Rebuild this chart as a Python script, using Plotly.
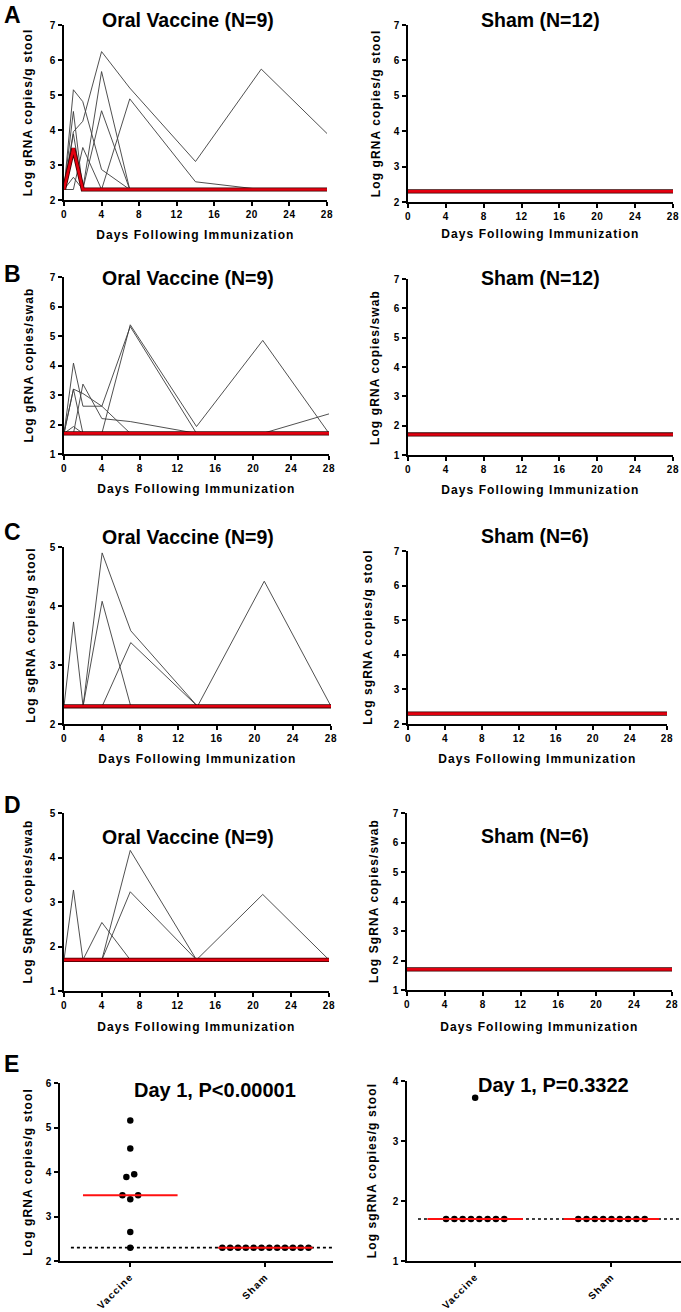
import numpy as np
import plotly.graph_objects as go

W, H = 681, 1312
FONT = "Liberation Sans, Arial, Helvetica, sans-serif"

# ---------------- data ----------------
DAYS = [0, 1, 2, 4, 7, 14, 21, 28]
DAY_TICKS = [0, 4, 8, 12, 16, 20, 24, 28]

# A: Log gRNA copies/g stool
A_VACCINE = [
    [2.3, 3.95, 4.25, 6.24, 5.20, 3.10, 5.74, 3.90],
    [2.3, 5.15, 4.81, 2.87, 2.30, 2.30, 2.30, 2.30],
    [2.3, 4.53, 2.30, 5.67, 2.30, 2.30, 2.30, 2.30],
    [2.3, 3.89, 2.30, 4.55, 2.30, 2.30, 2.30, 2.30],
    [2.3, 3.48, 2.30, 2.30, 4.89, 2.52, 2.30, 2.30],
    [2.3, 3.48, 2.30, 2.30, 2.30, 2.30, 2.30, 2.30],
    [2.3, 3.39, 2.30, 2.30, 2.30, 2.30, 2.30, 2.30],
    [2.3, 2.65, 2.30, 2.30, 2.30, 2.30, 2.30, 2.30],
    [2.3, 2.30, 3.50, 2.30, 2.30, 2.30, 2.30, 2.30],
]
A_SHAM = [
    [2.3, 2.3, 2.3, 2.3, 2.3, 2.3, 2.3, 2.3],
    [2.3, 2.3, 2.3, 2.3, 2.3, 2.3, 2.3, 2.3],
    [2.3, 2.3, 2.3, 2.3, 2.3, 2.3, 2.3, 2.3],
    [2.3, 2.3, 2.3, 2.3, 2.3, 2.3, 2.3, 2.3],
    [2.3, 2.3, 2.3, 2.3, 2.3, 2.3, 2.3, 2.3],
    [2.3, 2.3, 2.3, 2.3, 2.3, 2.3, 2.3, 2.3],
    [2.3, 2.3, 2.3, 2.3, 2.3, 2.3, 2.3, 2.3],
    [2.3, 2.3, 2.3, 2.3, 2.3, 2.3, 2.3, 2.3],
    [2.3, 2.3, 2.3, 2.3, 2.3, 2.3, 2.3, 2.3],
    [2.3, 2.3, 2.3, 2.3, 2.3, 2.3, 2.3, 2.3],
    [2.3, 2.3, 2.3, 2.3, 2.3, 2.3, 2.3, 2.3],
    [2.3, 2.3, 2.3, 2.3, 2.3, 2.3, 2.3, 2.3],
]

# B: Log gRNA copies/swab
B_VACCINE = [
    [1.7, 4.08, 2.62, 2.62, 1.70, 1.70, 1.70, 1.70],
    [1.7, 3.20, 1.70, 1.70, 5.38, 1.93, 4.85, 1.70],
    [1.7, 1.70, 3.37, 2.20, 2.10, 1.70, 1.70, 1.70],
    [1.7, 3.20, 3.05, 2.62, 5.32, 1.70, 1.70, 1.70],
    [1.7, 1.93, 1.70, 1.70, 1.70, 1.70, 1.70, 1.70],
    [1.7, 1.70, 1.70, 1.70, 1.70, 1.70, 1.70, 2.36],
    [1.7, 1.70, 1.70, 1.70, 1.70, 1.70, 1.70, 1.70],
    [1.7, 1.70, 1.70, 1.70, 1.70, 1.70, 1.70, 1.70],
    [1.7, 1.70, 1.70, 1.70, 1.70, 1.70, 1.70, 1.70],
]
B_SHAM = [
    [1.7, 1.7, 1.7, 1.7, 1.7, 1.7, 1.7, 1.7],
    [1.7, 1.7, 1.7, 1.7, 1.7, 1.7, 1.7, 1.7],
    [1.7, 1.7, 1.7, 1.7, 1.7, 1.7, 1.7, 1.7],
    [1.7, 1.7, 1.7, 1.7, 1.7, 1.7, 1.7, 1.7],
    [1.7, 1.7, 1.7, 1.7, 1.7, 1.7, 1.7, 1.7],
    [1.7, 1.7, 1.7, 1.7, 1.7, 1.7, 1.7, 1.7],
    [1.7, 1.7, 1.7, 1.7, 1.7, 1.7, 1.7, 1.7],
    [1.7, 1.7, 1.7, 1.7, 1.7, 1.7, 1.7, 1.7],
    [1.7, 1.7, 1.7, 1.7, 1.7, 1.7, 1.7, 1.7],
    [1.7, 1.7, 1.7, 1.7, 1.7, 1.7, 1.7, 1.7],
    [1.7, 1.7, 1.7, 1.7, 1.7, 1.7, 1.7, 1.7],
    [1.7, 1.7, 1.7, 1.7, 1.7, 1.7, 1.7, 1.7],
]

# C: Log sgRNA copies/g stool
C_VACCINE = [
    [2.3, 3.73, 2.3, 2.30, 2.30, 2.3, 2.30, 2.3],
    [2.3, 2.30, 2.3, 4.90, 3.58, 2.3, 2.30, 2.3],
    [2.3, 2.30, 2.3, 4.08, 2.30, 2.3, 2.30, 2.3],
    [2.3, 2.30, 2.3, 2.30, 3.38, 2.3, 2.30, 2.3],
    [2.3, 2.30, 2.3, 2.30, 2.30, 2.3, 4.42, 2.3],
    [2.3, 2.30, 2.3, 2.30, 2.30, 2.3, 2.30, 2.3],
    [2.3, 2.30, 2.3, 2.30, 2.30, 2.3, 2.30, 2.3],
    [2.3, 2.30, 2.3, 2.30, 2.30, 2.3, 2.30, 2.3],
    [2.3, 2.30, 2.3, 2.30, 2.30, 2.3, 2.30, 2.3],
]
C_SHAM = [
    [2.3, 2.3, 2.3, 2.3, 2.3, 2.3, 2.3, 2.3],
    [2.3, 2.3, 2.3, 2.3, 2.3, 2.3, 2.3, 2.3],
    [2.3, 2.3, 2.3, 2.3, 2.3, 2.3, 2.3, 2.3],
    [2.3, 2.3, 2.3, 2.3, 2.3, 2.3, 2.3, 2.3],
    [2.3, 2.3, 2.3, 2.3, 2.3, 2.3, 2.3, 2.3],
    [2.3, 2.3, 2.3, 2.3, 2.3, 2.3, 2.3, 2.3],
]

# D: Log SgRNA copies/swab
D_VACCINE = [
    [1.7, 3.27, 1.7, 1.70, 1.70, 1.7, 1.70, 1.7],
    [1.7, 1.70, 1.7, 2.54, 1.70, 1.7, 1.70, 1.7],
    [1.7, 1.70, 1.7, 1.70, 4.16, 1.7, 1.70, 1.7],
    [1.7, 1.70, 1.7, 1.70, 3.23, 1.7, 1.70, 1.7],
    [1.7, 1.70, 1.7, 1.70, 1.70, 1.7, 3.17, 1.7],
    [1.7, 1.70, 1.7, 1.70, 1.70, 1.7, 1.70, 1.7],
    [1.7, 1.70, 1.7, 1.70, 1.70, 1.7, 1.70, 1.7],
    [1.7, 1.70, 1.7, 1.70, 1.70, 1.7, 1.70, 1.7],
    [1.7, 1.70, 1.7, 1.70, 1.70, 1.7, 1.70, 1.7],
]
D_SHAM = [
    [1.7, 1.7, 1.7, 1.7, 1.7, 1.7, 1.7, 1.7],
    [1.7, 1.7, 1.7, 1.7, 1.7, 1.7, 1.7, 1.7],
    [1.7, 1.7, 1.7, 1.7, 1.7, 1.7, 1.7, 1.7],
    [1.7, 1.7, 1.7, 1.7, 1.7, 1.7, 1.7, 1.7],
    [1.7, 1.7, 1.7, 1.7, 1.7, 1.7, 1.7, 1.7],
    [1.7, 1.7, 1.7, 1.7, 1.7, 1.7, 1.7, 1.7],
]

# E: Day 1 comparisons
E_CATEGORIES = ["Vaccine", "Sham"]
E_LEFT_VACCINE = [5.16, 4.53, 3.95, 3.89, 3.48, 3.48, 3.39, 2.65, 2.30]
E_LEFT_SHAM = [2.3, 2.3, 2.3, 2.3, 2.3, 2.3, 2.3, 2.3, 2.3, 2.3, 2.3, 2.3]
E_LEFT_LOD = 2.3
E_RIGHT_VACCINE = [3.72, 1.7, 1.7, 1.7, 1.7, 1.7, 1.7, 1.7, 1.7]
E_RIGHT_SHAM = [1.7, 1.7, 1.7, 1.7, 1.7, 1.7, 1.7, 1.7, 1.7]
E_RIGHT_LOD = 1.7

# ---------------- layout helpers ----------------
GRAY = "#3c3c3c"
RED = "#e3000f"


def fx(p):
    return p / W


def fy(p):
    return 1 - p / H


def bold(size):
    return dict(family=FONT, size=size, color="black", weight="bold")


def axis_style(**kw):
    d = dict(showline=True, linecolor="black", linewidth=2, ticks="outside",
             ticklen=4, tickwidth=2, tickcolor="black", showgrid=False,
             zeroline=False, tickfont=bold(10), fixedrange=True,
             ticklabeloverflow="allow")
    d.update(kw)
    return d


fig = go.Figure()
annotations = []
shapes = []

TIME_PANELS = [
    # data, box(x0,x1,y0,y1), yrange, ylabel, title, title pos, xtitle y, ytitle x
    (A_VACCINE, (64, 327, 25, 200), (2, 7), "Log gRNA copies/g stool", "Oral Vaccine (N=9)", (188, 20), 235, 28),
    (A_SHAM, (408, 673, 25, 202), (2, 7), "Log gRNA copies/g stool", "Sham (N=12)", (540, 20), 234, 375),
    (B_VACCINE, (64, 329, 277, 454), (1, 7), "Log gRNA copies/swab", "Oral Vaccine (N=9)", (188, 278), 489, 28),
    (B_SHAM, (408, 673, 279, 455), (1, 7), "Log gRNA copies/swab", "Sham (N=12)", (540, 278), 490, 375),
    (C_VACCINE, (64, 331, 547, 724), (2, 5), "Log sgRNA copies/g stool", "Oral Vaccine (N=9)", (188, 537), 759, 30),
    (C_SHAM, (408, 667, 551, 724), (2, 7), "Log sgRNA copies/g stool", "Sham (N=6)", (535, 536), 759, 368),
    (D_VACCINE, (64, 329, 813, 991), (1, 5), "Log SgRNA copies/swab", "Oral Vaccine (N=9)", (188, 837), 1027, 28),
    (D_SHAM, (407, 672, 813, 990), (1, 7), "Log SgRNA copies/swab", "Sham (N=6)", (535, 836), 1027, 373),
]

layout_axes = {}
n = 0
for data, box, yr, ylab, title, tpos, xt_y, yt_x in TIME_PANELS:
    n += 1
    xa = "x" if n == 1 else f"x{n}"
    ya = "y" if n == 1 else f"y{n}"
    x0, x1, y0, y1 = box
    arr = np.array(data, dtype=float)
    for row in arr:
        fig.add_trace(go.Scatter(x=DAYS, y=row, mode="lines", xaxis=xa, yaxis=ya,
                                 line=dict(color=GRAY, width=0.9), showlegend=False,
                                 hoverinfo="skip"))
    med = np.median(arr, axis=0)
    fig.add_trace(go.Scatter(x=DAYS, y=med, mode="lines", xaxis=xa, yaxis=ya,
                             line=dict(color="#3a0000", width=4.2), showlegend=False,
                             hoverinfo="skip"))
    fig.add_trace(go.Scatter(x=DAYS, y=med, mode="lines", xaxis=xa, yaxis=ya,
                             line=dict(color=RED, width=2.6), showlegend=False,
                             hoverinfo="skip"))
    key = "" if n == 1 else str(n)
    layout_axes["xaxis" + key] = axis_style(domain=[fx(x0), fx(x1)], range=[0, 28],
                                            tickvals=DAY_TICKS, anchor=ya)
    layout_axes["yaxis" + key] = axis_style(domain=[fy(y1), fy(y0)], range=list(yr),
                                            dtick=1, tick0=yr[0], anchor=xa)
    annotations.append(dict(text=title, x=fx(tpos[0]), y=fy(tpos[1]), xref="paper", yref="paper",
                            xanchor="center", yanchor="middle", showarrow=False, font=bold(19.5)))
    annotations.append(dict(text="Days Following Immunization", x=fx((x0 + x1) / 2), y=fy(xt_y),
                            xref="paper", yref="paper", xanchor="center", yanchor="middle",
                            showarrow=False, font=bold(12)))
    annotations.append(dict(text=ylab, x=fx(yt_x), y=fy((y0 + y1) / 2), xref="paper", yref="paper",
                            xanchor="center", yanchor="middle", textangle=-90,
                            showarrow=False, font=bold(12)))


def swarm_offsets(values, step, tol):
    order = sorted(range(len(values)), key=lambda i: values[i])
    offs = [0.0] * len(values)
    groups = []
    for i in order:
        if groups and values[i] - values[groups[-1][0]] <= tol:
            groups[-1].append(i)
        else:
            groups.append([i])
    for g in groups:
        k = len(g)
        slots = sorted([j - (k - 1) / 2 for j in range(k)], key=lambda s: (abs(s), s))
        for idx, s in zip(g, slots):
            offs[idx] = s * step
    return offs


E_PANELS = [
    (E_LEFT_VACCINE, E_LEFT_SHAM, E_LEFT_LOD, (60, 333, 1083, 1261), (2, 6), [-0.52, 1.5],
     "Log gRNA copies/g stool", "Day 1, P<0.00001", (215, 1090), 28, 0.058),
    (E_RIGHT_VACCINE, E_RIGHT_SHAM, E_RIGHT_LOD, (407, 681, 1081, 1261), (1, 4), [-0.5, 1.51],
     "Log sgRNA copies/g stool", "Day 1, P=0.3322", (553, 1085), 372, 0.061),
]

for vac, sham, lod, box, yr, xr, ylab, title, tpos, yt_x, step in E_PANELS:
    n += 1
    xa, ya = f"x{n}", f"y{n}"
    x0, x1, y0, y1 = box
    shapes.append(dict(type="line", xref=f"{xa} domain", yref=ya, x0=0.04, x1=1, y0=lod, y1=lod,
                       line=dict(color="black", width=1.6, dash="dot"), layer="below"))
    for ci, grp in enumerate([vac, sham]):
        offs = swarm_offsets(grp, step, 0.1)
        fig.add_trace(go.Scatter(x=[ci + o for o in offs], y=grp, mode="markers", xaxis=xa, yaxis=ya,
                                 marker=dict(color="black", size=6.5), showlegend=False,
                                 hoverinfo="skip", cliponaxis=False))
        med = float(np.median(grp))
        fig.add_trace(go.Scatter(x=[ci - 0.35, ci + 0.35], y=[med, med], mode="lines",
                                 xaxis=xa, yaxis=ya, line=dict(color="#ff1010", width=2),
                                 showlegend=False, hoverinfo="skip"))
    key = str(n)
    layout_axes["xaxis" + key] = axis_style(domain=[fx(x0), fx(x1)], range=xr, tickvals=[0, 1],
                                            ticktext=E_CATEGORIES, tickangle=-45, anchor=ya)
    layout_axes["yaxis" + key] = axis_style(domain=[fy(y1), fy(y0)], range=list(yr), dtick=1,
                                            tick0=yr[0], anchor=xa)
    annotations.append(dict(text=title, x=fx(tpos[0]), y=fy(tpos[1]), xref="paper", yref="paper",
                            xanchor="center", yanchor="middle", showarrow=False, font=bold(20)))
    annotations.append(dict(text=ylab, x=fx(yt_x), y=fy((y0 + y1) / 2), xref="paper", yref="paper",
                            xanchor="center", yanchor="middle", textangle=-90,
                            showarrow=False, font=bold(12)))

PANEL_LETTERS = ["A", "B", "C", "D", "E"]
LETTER_POS = [(12, 15), (12, 274), (12, 532), (12, 805), (11, 1064)]
for letter, (lx, ly) in zip(PANEL_LETTERS, LETTER_POS):
    annotations.append(dict(text=letter, x=fx(lx), y=fy(ly), xref="paper", yref="paper",
                            xanchor="center", yanchor="middle", showarrow=False, font=bold(23)))

fig.update_layout(width=W, height=H, autosize=False, margin=dict(l=0, r=0, t=0, b=0, autoexpand=False),
                  paper_bgcolor="white", plot_bgcolor="white", showlegend=False,
                  annotations=annotations, shapes=shapes, **layout_axes)

POST = """
(function(){
  document.documentElement.style.margin='0';
  document.documentElement.style.padding='0';
  document.documentElement.style.overflow='hidden';
  document.body.style.margin='0';
  document.body.style.padding='0';
  document.body.style.overflow='hidden';
  function sp(){
    var gd = document.getElementById('{plot_id}');
    if(!gd) return;
    gd.querySelectorAll('text').forEach(function(t){
      var s = t.textContent;
      if (s.indexOf('Days ')===0 || s.indexOf('Log ')===0) { t.style.letterSpacing='1.1px'; }
      else if (/^[0-9]+$/.test(s)) { t.style.letterSpacing='0.6px'; }
      else if (s==='Vaccine' || s==='Sham') { t.style.letterSpacing='1.2px'; }
    });
  }
  sp(); setTimeout(sp, 0); setTimeout(sp, 150);
  var g = document.getElementById('{plot_id}');
  if (g && g.on) { g.on('plotly_afterplot', sp); }
})();
"""

fig.write_html("out.html", post_script=POST, config={"displayModeBar": False})
